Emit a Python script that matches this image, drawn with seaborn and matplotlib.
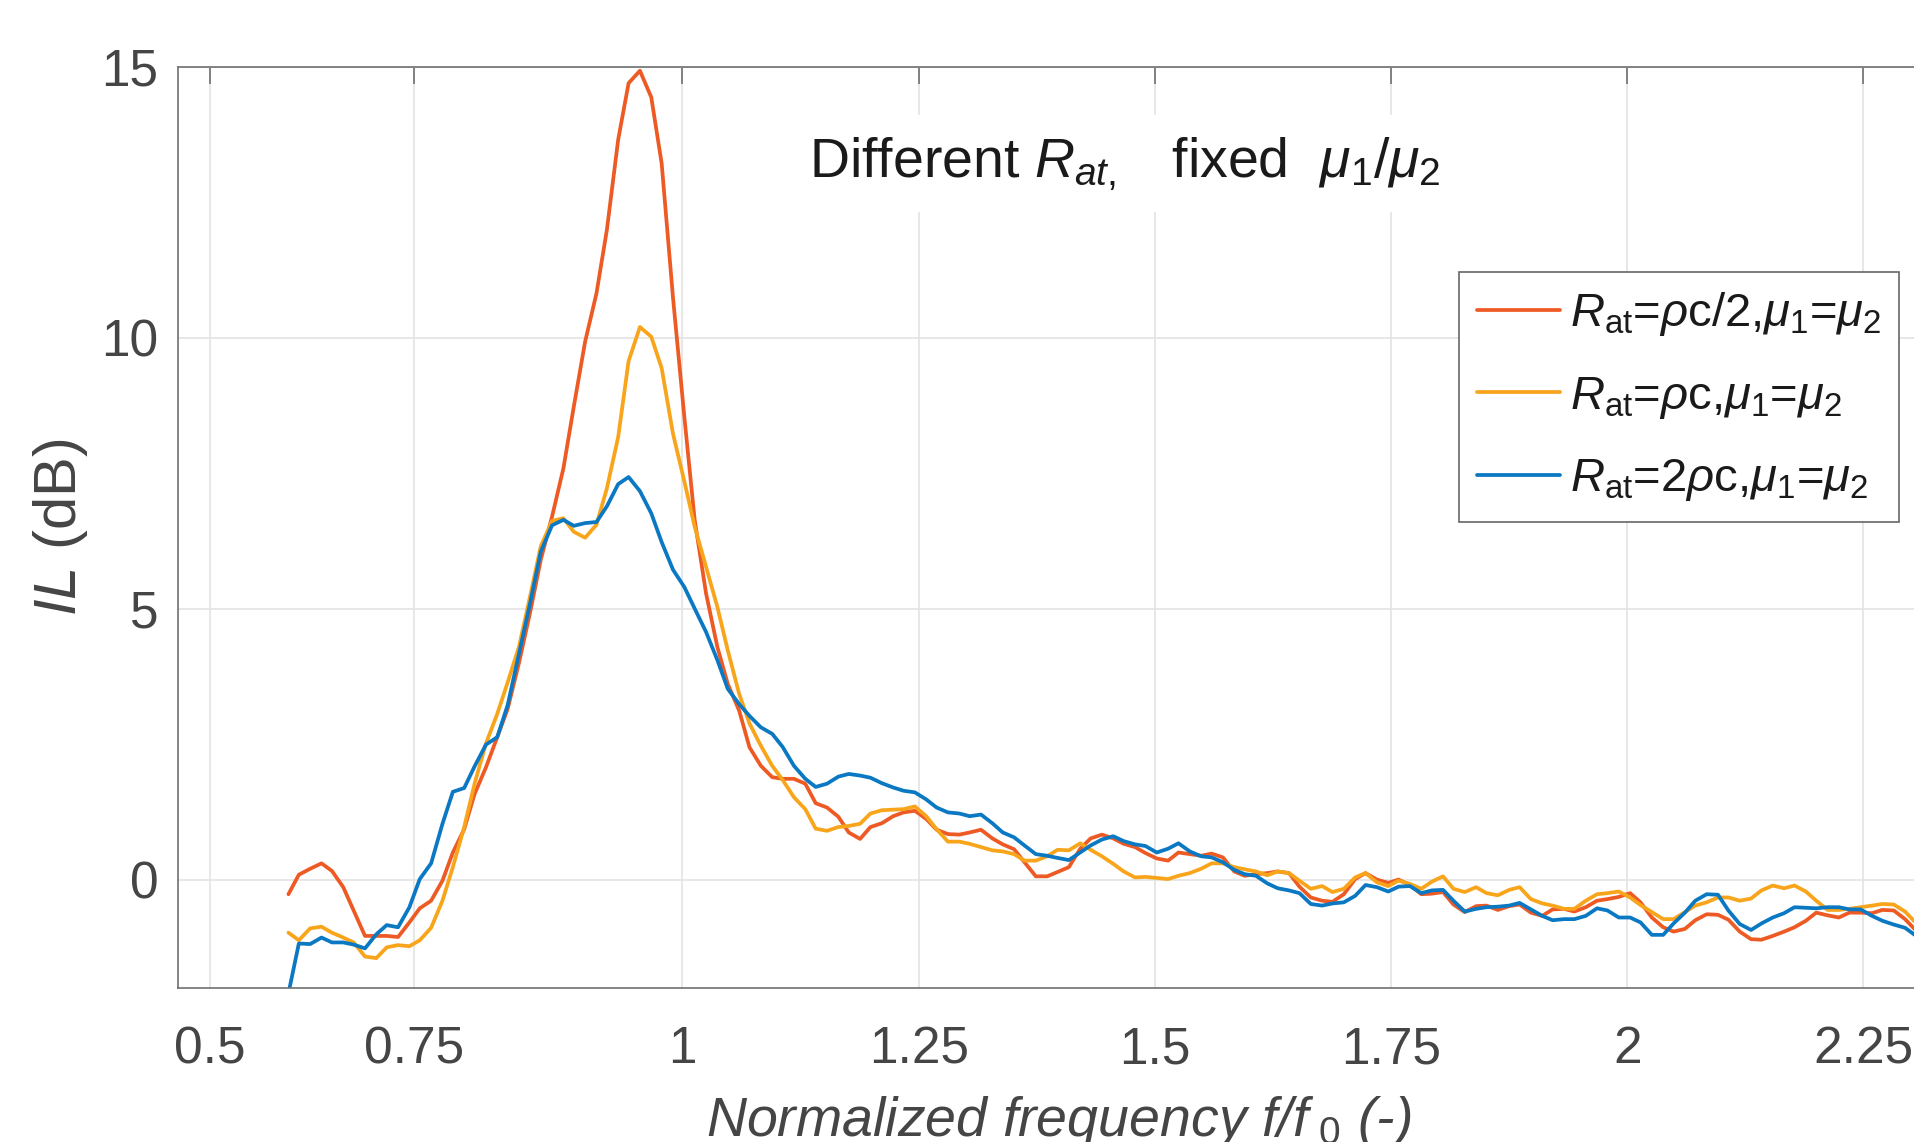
import numpy as np
import pandas as pd
import matplotlib
matplotlib.use("Agg")
import matplotlib.pyplot as plt
import seaborn as sns

# normalized frequency f/f0
freq = [0.583, 0.594, 0.606, 0.618, 0.629, 0.641, 0.652, 0.664, 0.676, 0.687,
        0.699, 0.711, 0.722, 0.734, 0.746, 0.757, 0.769, 0.780, 0.792, 0.804,
        0.815, 0.827, 0.839, 0.850, 0.862, 0.874, 0.885, 0.897, 0.909, 0.920,
        0.932, 0.943, 0.955, 0.967, 0.978, 0.990, 1.002, 1.013, 1.025, 1.037,
        1.048, 1.060, 1.071, 1.083, 1.095, 1.106, 1.118, 1.130, 1.141, 1.153,
        1.165, 1.176, 1.188, 1.199, 1.211, 1.223, 1.234, 1.246, 1.258, 1.269,
        1.281, 1.293, 1.304, 1.316, 1.328, 1.339, 1.351, 1.362, 1.374, 1.386,
        1.397, 1.409, 1.421, 1.432, 1.444, 1.456, 1.467, 1.479, 1.490, 1.502,
        1.514, 1.525, 1.537, 1.549, 1.560, 1.572, 1.584, 1.595, 1.607, 1.619,
        1.630, 1.642, 1.653, 1.665, 1.677, 1.688, 1.700, 1.712, 1.723, 1.735,
        1.747, 1.758, 1.770, 1.782, 1.793, 1.805, 1.816, 1.828, 1.840, 1.851,
        1.863, 1.875, 1.886, 1.898, 1.910, 1.921, 1.933, 1.944, 1.956, 1.968,
        1.979, 1.991, 2.003, 2.014, 2.026, 2.038, 2.049, 2.061, 2.072, 2.084,
        2.096, 2.107, 2.119, 2.131, 2.142, 2.154, 2.166, 2.177, 2.189, 2.200,
        2.212, 2.224, 2.235, 2.247, 2.259, 2.270, 2.282, 2.294, 2.305]

# IL (dB), R_at = rho c / 2
il_half = [-0.27, 0.09, 0.20, 0.30, 0.16, -0.14, -0.57, -1.04, -1.04, -1.04,
           -1.06, -0.79, -0.53, -0.39, -0.02, 0.50, 0.93, 1.58, 2.07, 2.63,
           3.15, 4.00, 4.95, 5.90, 6.70, 7.59, 8.73, 9.93, 10.82, 11.99,
           13.66, 14.70, 14.93, 14.44, 13.22, 10.74, 8.54, 6.63, 5.28, 4.29,
           3.61, 3.12, 2.44, 2.10, 1.89, 1.86, 1.86, 1.77, 1.41, 1.33,
           1.16, 0.87, 0.75, 0.97, 1.04, 1.17, 1.24, 1.27, 1.12, 0.92,
           0.84, 0.83, 0.87, 0.92, 0.76, 0.65, 0.56, 0.32, 0.06, 0.06,
           0.14, 0.23, 0.57, 0.76, 0.83, 0.76, 0.66, 0.60, 0.49, 0.39,
           0.35, 0.50, 0.47, 0.44, 0.48, 0.41, 0.15, 0.07, 0.10, 0.12,
           0.15, 0.12, -0.13, -0.33, -0.39, -0.41, -0.27, 0.01, 0.12, 0.00,
           -0.06, 0.00, -0.10, -0.27, -0.26, -0.23, -0.46, -0.60, -0.49, -0.48,
           -0.56, -0.49, -0.46, -0.61, -0.67, -0.55, -0.54, -0.59, -0.51, -0.39,
           -0.36, -0.32, -0.25, -0.42, -0.70, -0.88, -0.96, -0.91, -0.75, -0.64,
           -0.65, -0.74, -0.96, -1.10, -1.11, -1.04, -0.96, -0.88, -0.76, -0.61,
           -0.66, -0.70, -0.61, -0.61, -0.62, -0.56, -0.57, -0.73, -0.93]

# IL (dB), R_at = rho c
il_one = [-0.98, -1.12, -0.90, -0.87, -0.98, -1.07, -1.16, -1.42, -1.45, -1.25,
          -1.21, -1.23, -1.12, -0.89, -0.39, 0.23, 0.97, 1.77, 2.51, 3.06,
          3.64, 4.30, 5.25, 6.15, 6.62, 6.67, 6.42, 6.31, 6.55, 7.22,
          8.17, 9.57, 10.20, 10.02, 9.44, 8.23, 7.35, 6.51, 5.77, 5.03,
          4.23, 3.43, 2.88, 2.47, 2.10, 1.84, 1.52, 1.30, 0.94, 0.90,
          0.97, 0.99, 1.03, 1.22, 1.28, 1.29, 1.30, 1.35, 1.17, 0.93,
          0.70, 0.70, 0.66, 0.60, 0.54, 0.52, 0.47, 0.35, 0.35, 0.43,
          0.55, 0.54, 0.67, 0.55, 0.43, 0.29, 0.15, 0.04, 0.05, 0.03,
          0.01, 0.07, 0.12, 0.20, 0.30, 0.30, 0.23, 0.19, 0.15, 0.08,
          0.15, 0.12, -0.02, -0.17, -0.12, -0.23, -0.17, 0.04, 0.12, -0.05,
          -0.12, -0.02, -0.08, -0.17, -0.04, 0.06, -0.17, -0.23, -0.14, -0.25,
          -0.29, -0.19, -0.14, -0.36, -0.44, -0.48, -0.54, -0.54, -0.39, -0.27,
          -0.25, -0.22, -0.33, -0.47, -0.60, -0.73, -0.73, -0.60, -0.48, -0.42,
          -0.33, -0.33, -0.39, -0.35, -0.20, -0.11, -0.16, -0.11, -0.22, -0.39,
          -0.56, -0.56, -0.54, -0.51, -0.48, -0.45, -0.46, -0.59, -0.79]

# IL (dB), R_at = 2 rho c
il_two = [-2.10, -1.18, -1.19, -1.07, -1.16, -1.16, -1.20, -1.27, -1.01, -0.84,
          -0.88, -0.51, 0.01, 0.30, 1.03, 1.62, 1.69, 2.09, 2.49, 2.63,
          3.22, 4.17, 5.12, 6.05, 6.54, 6.64, 6.53, 6.58, 6.60, 6.89,
          7.30, 7.43, 7.17, 6.76, 6.23, 5.72, 5.40, 5.00, 4.57, 4.05,
          3.52, 3.24, 3.02, 2.81, 2.69, 2.45, 2.10, 1.86, 1.71, 1.77,
          1.90, 1.95, 1.92, 1.88, 1.78, 1.70, 1.64, 1.61, 1.48, 1.33,
          1.24, 1.22, 1.17, 1.20, 1.04, 0.87, 0.78, 0.63, 0.47, 0.44,
          0.40, 0.36, 0.50, 0.63, 0.74, 0.80, 0.71, 0.65, 0.62, 0.50,
          0.57, 0.67, 0.52, 0.43, 0.41, 0.32, 0.18, 0.10, 0.07, -0.07,
          -0.16, -0.20, -0.25, -0.45, -0.48, -0.44, -0.42, -0.30, -0.10, -0.14,
          -0.22, -0.13, -0.12, -0.25, -0.20, -0.19, -0.39, -0.59, -0.54, -0.51,
          -0.50, -0.48, -0.43, -0.55, -0.67, -0.75, -0.73, -0.73, -0.67, -0.53,
          -0.57, -0.70, -0.70, -0.79, -1.02, -1.02, -0.81, -0.61, -0.39, -0.27,
          -0.28, -0.57, -0.82, -0.93, -0.81, -0.70, -0.62, -0.51, -0.52, -0.53,
          -0.51, -0.51, -0.55, -0.55, -0.67, -0.76, -0.83, -0.89, -1.03]

labels = [r'$R_{\rm at}$=$\rho$c/2,$\mu_{1}$=$\mu_{2}$',
          r'$R_{\rm at}$=$\rho$c,$\mu_{1}$=$\mu_{2}$',
          r'$R_{\rm at}$=2$\rho$c,$\mu_{1}$=$\mu_{2}$']
colors = ['#EE5A24', '#F8A51C', '#0A78C2']

x_ticks = [0.5, 0.7156, 1.0, 1.25, 1.5, 1.75, 2.0, 2.25]
x_tick_labels = ['0.5', '0.75', '1', '1.25', '1.5', '1.75', '2', '2.25']
y_ticks = [0, 5, 10, 15]

n = len(freq)
df = pd.DataFrame({
    'f': freq * 3,
    'IL': il_half + il_one + il_two,
    'case': [labels[0]] * n + [labels[1]] * n + [labels[2]] * n,
})

sns.set_theme(style='white')
plt.rcParams['font.family'] = ['Liberation Sans', 'DejaVu Sans']
plt.rcParams['mathtext.fontset'] = 'custom'
plt.rcParams['mathtext.rm'] = 'Liberation Sans'
plt.rcParams['mathtext.it'] = 'Liberation Sans:italic'
plt.rcParams['mathtext.bf'] = 'Liberation Sans:bold'

fig = plt.figure(figsize=(19.14, 11.42), dpi=100)
fig.patch.set_facecolor('white')
ax = fig.add_axes([0.0930, 0.1349, 0.9201, 0.8065])

sns.lineplot(data=df, x='f', y='IL', hue='case', hue_order=labels,
             palette=colors, linewidth=2.7, estimator=None, sort=False,
             legend=False, ax=ax)

ax.set_xlim(0.4661, 2.33)
ax.set_ylim(-2, 15)
ax.set_xticks(x_ticks)
ax.set_xticklabels(x_tick_labels)
ax.set_yticks(y_ticks)
ax.grid(True, color='#e3e3e3', linewidth=1.2)
ax.set_axisbelow(True)

for s in ax.spines.values():
    s.set_visible(True)
    s.set_color('#707070')
    s.set_linewidth(1.2)

ax.tick_params(direction='in', length=12, width=1.2, color='#707070',
               labelsize=37, labelcolor='#454545', top=True, right=True)
ax.tick_params(axis='x', pad=27)
ax.tick_params(axis='y', pad=14)

ax.set_ylabel(r'$IL$ (dB)', fontsize=43, color='#454545')
ax.yaxis.set_label_coords(-0.050, 0.5)
ax.set_xlabel('Normalized frequency f/f$_{\\ 0}$ (-)', fontsize=40,
              style='italic', color='#454545')
ax.xaxis.set_label_coords(0.5, -0.1607)
ax.xaxis.label.set_va('baseline')

ax.text(1.468, 12.97, r'Different $R_{at,}$   fixed  $\mu_{1}$/$\mu_{2}$',
        fontsize=40, ha='center', va='baseline', color='#1a1a1a',
        bbox=dict(facecolor='white', edgecolor='none', pad=14))

leg = ax.legend(ax.lines[:3], labels, loc='upper left',
                bbox_to_anchor=(1459 / 1914, 1 - 272 / 1142),
                bbox_transform=fig.transFigure, fontsize=34, frameon=True,
                fancybox=False, edgecolor='#666666', framealpha=1,
                borderpad=0.39, handlelength=1.75, handletextpad=0.2,
                labelspacing=0.77, borderaxespad=0)
leg.get_frame().set_linewidth(1.2)
for t in leg.get_texts():
    t.set_color('#1a1a1a')

fig.savefig('out.png', dpi=100)
